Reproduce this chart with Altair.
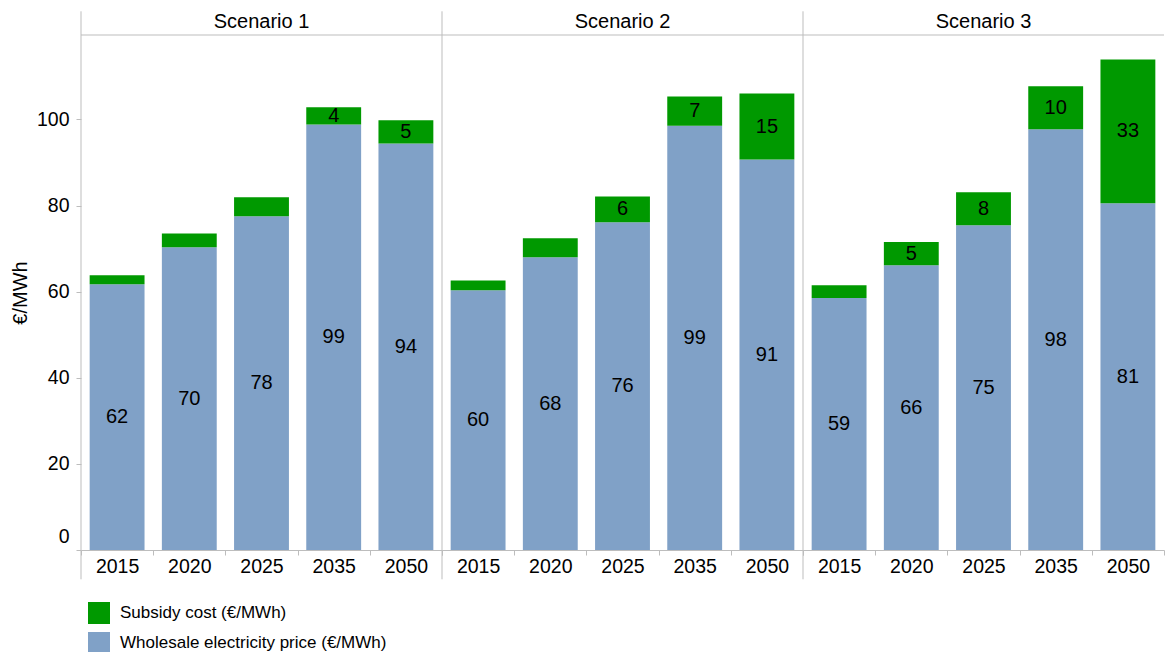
import altair as alt
import pandas as pd

# ---- data -------------------------------------------------------------
scenarios = ["Scenario 1", "Scenario 2", "Scenario 3"]
years = ["2015", "2020", "2025", "2035", "2050"]
series_names = ["Subsidy cost (€/MWh)", "Wholesale electricity price (€/MWh)"]
series_colors = ["#009900", "#80A1C7"]

wholesale_price = {
    "Scenario 1": [61.7, 70.3, 77.5, 98.8, 94.4],
    "Scenario 2": [60.3, 68.0, 76.1, 98.5, 90.7],
    "Scenario 3": [58.5, 66.1, 75.4, 97.7, 80.5],
}
subsidy_cost = {
    "Scenario 1": [2.1, 3.2, 4.4, 4.0, 5.4],
    "Scenario 2": [2.3, 4.4, 6.0, 6.8, 15.3],
    "Scenario 3": [3.0, 5.4, 7.7, 10.0, 33.4],
}
# which subsidy segments carry a value label
subsidy_labelled = {
    "Scenario 1": [False, False, False, True, True],
    "Scenario 2": [False, False, True, True, True],
    "Scenario 3": [False, True, True, True, True],
}
y_ticks = [0, 20, 40, 60, 80, 100]
y_max = 119.6

rows = []
for sc in scenarios:
    for i, yr in enumerate(years):
        rows.append(dict(scenario=sc, year=yr, series=series_names[1],
                         value=wholesale_price[sc][i], order=0, show=True))
        rows.append(dict(scenario=sc, year=yr, series=series_names[0],
                         value=subsidy_cost[sc][i], order=1,
                         show=subsidy_labelled[sc][i]))
df = pd.DataFrame(rows)

# ---- styling ----------------------------------------------------------
W, H = 361, 515
GREY = "#BDBDBD"
FONT = "Liberation Sans"
FS = 20

x_enc = alt.X(
    "year:N", sort=years, title=None,
    scale=alt.Scale(paddingInner=0, paddingOuter=0),
    axis=alt.Axis(tickBand="extent", labelAngle=0, domainColor=GREY,
                  tickColor=GREY, tickSize=5, labelFontSize=19.5,
                  labelPadding=2, labelColor="black"),
)
y_scale = alt.Scale(domain=[0, y_max], nice=False)
y_axis = alt.Axis(values=y_ticks, title="€/MWh", grid=False, domain=False,
                  tickColor=GREY, tickSize=5, labelPadding=7, labelFlush=True,
                  labelFlushOffset=-4,
                  labelFontSize=19.5, labelColor="black", titleFontSize=FS,
                  titleFontWeight="normal", titleColor="black", titlePadding=6)

bars = alt.Chart().mark_bar(width=alt.RelativeBandSize(0.76)).encode(
    x=x_enc,
    y=alt.Y("y1:Q", scale=y_scale, axis=y_axis),
    y2="y0:Q",
    color=alt.Color(
        "series:N",
        scale=alt.Scale(domain=series_names, range=series_colors),
        legend=alt.Legend(title=None, orient="none", legendX=7, legendY=567,
                          direction="vertical", symbolType="square",
                          symbolSize=484, symbolStrokeWidth=0,
                          symbolOpacity=1, labelFontSize=17, labelLimit=500,
                          labelColor="black", rowPadding=8, labelOffset=10),
    ),
)

labels = alt.Chart().transform_filter("datum.show").mark_text(
    fontSize=FS, color="black", baseline="middle", font=FONT
).encode(
    x=x_enc,
    y=alt.Y("mid:Q", scale=y_scale, axis=y_axis),
    text=alt.Text("value:Q", format=".0f"),
)

# panel separators running through header and axis-label strip
one_row = "datum.year === '2015' && datum.order === 0"
separator = alt.Chart().transform_filter(one_row).mark_rule(
    color=GREY, strokeWidth=1
).encode(x=alt.value(0), y=alt.value(-23.7), y2=alt.value(H + 29.3))
header_line = alt.Chart().transform_filter(one_row).mark_rule(
    color=GREY, strokeWidth=1
).encode(x=alt.value(0), x2=alt.value(W), y=alt.value(0))

panel = alt.layer(bars, labels, separator, header_line).transform_stack(
    stack="value", groupby=["scenario", "year"], as_=["y0", "y1"],
    sort=[alt.SortField("order", order="ascending")],
).transform_calculate(
    mid="(datum.y0 + datum.y1) / 2"
).properties(width=W, height=H)

chart = panel.facet(
    column=alt.Column("scenario:N", sort=scenarios, title=None,
                      header=alt.Header(labelFontSize=FS, labelColor="black",
                                        labelFont=FONT, labelPadding=3)),
    data=df,
    spacing=0,
    bounds="flush",
).properties(
    padding={"left": 10, "top": 10, "right": 0, "bottom": 0}
).configure(
    font=FONT
).configure_view(
    stroke=None
)

chart.save("out.html", embed_options={"renderer": "svg", "actions": False})
